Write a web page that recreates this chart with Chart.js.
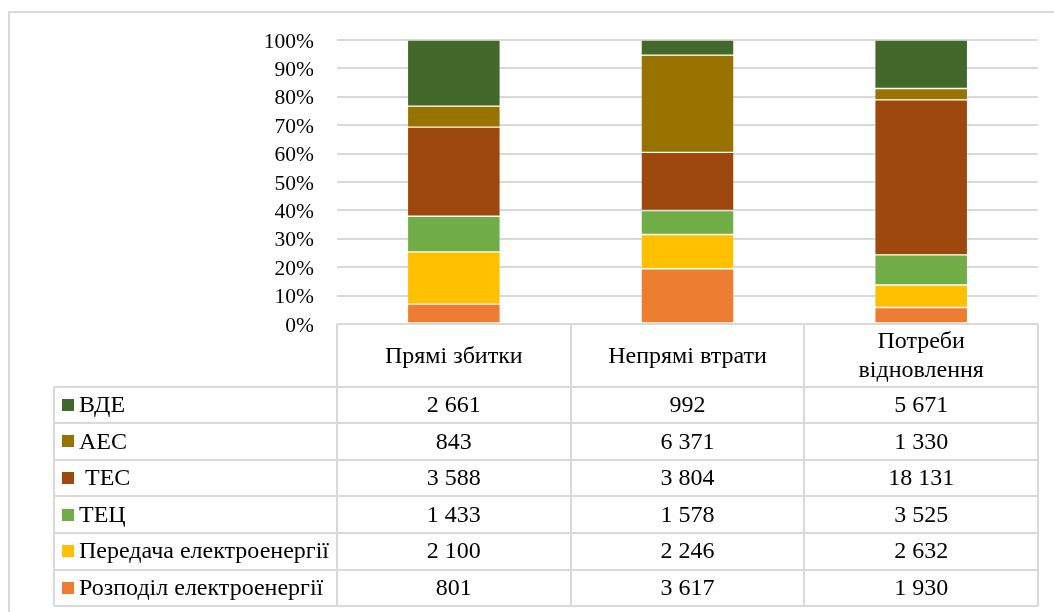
<!DOCTYPE html>
<html>
<head>
<meta charset="utf-8">
<script src="https://cdn.jsdelivr.net/npm/chart.js@4/dist/chart.umd.min.js"></script>
<style>
  html, body { margin: 0; padding: 0; background: #ffffff; }
  canvas { display: block; }
</style>
</head>
<body>
<canvas id="c" width="1054" height="612"></canvas>
<script>
// ---- data ----
const categories = ["Прямі збитки", "Непрямі втрати", ["Потреби", "відновлення"]];
const seriesNames = ["ВДЕ", "АЕС", " ТЕС", "ТЕЦ", "Передача електроенергії", "Розподіл електроенергії"];
const vde      = [2661, 992, 5671];
const aes      = [843, 6371, 1330];
const tes      = [3588, 3804, 18131];
const tec      = [1433, 1578, 3525];
const peredacha = [2100, 2246, 2632];
const rozpodil = [801, 3617, 1930];
const yTickLabels = ["0%", "10%", "20%", "30%", "40%", "50%", "60%", "70%", "80%", "90%", "100%"];

const seriesValues = [vde, aes, tes, tec, peredacha, rozpodil];
const seriesColors = ["#43682B", "#997300", "#9E480E", "#70AD47", "#FFC000", "#ED7D31"];

const totals = categories.map((_, i) => seriesValues.reduce((s, arr) => s + arr[i], 0));

// datasets bottom-to-top: Розподіл first
const datasets = [];
for (let k = seriesValues.length - 1; k >= 0; k--) {
  datasets.push({
    label: seriesNames[k],
    data: seriesValues[k].map((v, i) => v / totals[i] * 100),
    backgroundColor: seriesColors[k],
    borderColor: "rgba(255,255,255,0.22)",
    borderWidth: 0.7,
    borderSkipped: false,
    barPercentage: 0.8,
    categoryPercentage: 0.497
  });
}

function fmt(n) {
  return String(n).replace(/\B(?=(\d{3})+(?!\d))/g, " ");
}

const FONT = '"Liberation Serif", "Times New Roman", serif';
const LINE = "#d9d9d9";
const TABLE_FONT_SIZE = 24;

const framePlugin = {
  id: "frame",
  beforeDraw(chart) {
    const ctx = chart.ctx;
    ctx.save();
    ctx.strokeStyle = LINE;
    ctx.lineWidth = 2;
    ctx.beginPath();
    ctx.moveTo(9, chart.height);
    ctx.lineTo(9, 12);
    ctx.lineTo(chart.width, 12);
    ctx.stroke();
    ctx.restore();
  }
};

const tablePlugin = {
  id: "dataTable",
  afterDraw(chart) {
    const ctx = chart.ctx;
    const xs = chart.scales.x;
    const area = chart.chartArea;
    const n = categories.length;
    const colW = (area.right - area.left) / n;
    const tableLeft = 54;
    const top = area.bottom;
    const headBottom = 386.5;
    const rowH = 36.6;
    const nRows = seriesNames.length;
    const bottom = headBottom + rowH * nRows;

    ctx.save();
    ctx.strokeStyle = LINE;
    ctx.lineWidth = 2;
    ctx.beginPath();
    ctx.moveTo(area.left, top); ctx.lineTo(area.right, top);
    for (let k = 0; k <= n; k++) {
      const x = Math.round(area.left + k * colW);
      ctx.moveTo(x, top); ctx.lineTo(x, bottom);
    }
    ctx.moveTo(tableLeft, headBottom); ctx.lineTo(tableLeft, bottom);
    for (let r = 0; r <= nRows; r++) {
      const y = Math.round(headBottom + r * rowH);
      ctx.moveTo(tableLeft, y); ctx.lineTo(area.right, y);
    }
    ctx.stroke();

    ctx.fillStyle = "#000000";
    ctx.font = TABLE_FONT_SIZE + "px " + FONT;
    ctx.textAlign = "center";
    ctx.textBaseline = "middle";
    categories.forEach((c, i) => {
      const cx = xs.getPixelForValue(i);
      const cy = (top + headBottom) / 2 + 1;
      if (Array.isArray(c)) {
        const lh = 28.3;
        c.forEach((ln, j) => ctx.fillText(ln, cx, cy + (j - (c.length - 1) / 2) * lh));
      } else {
        ctx.fillText(c, cx, cy);
      }
    });
    seriesNames.forEach((name, r) => {
      const cy = headBottom + r * rowH + rowH / 2 + 1;
      ctx.fillStyle = seriesColors[r];
      ctx.fillRect(62, Math.round(cy - 7), 12, 12);
      ctx.fillStyle = "#000000";
      ctx.textAlign = "left";
      ctx.fillText(name, 79, cy);
      ctx.textAlign = "center";
      seriesValues[r].forEach((v, i) => {
        ctx.fillText(fmt(v), xs.getPixelForValue(i), cy);
      });
    });
    ctx.restore();
  }
};

new Chart(document.getElementById("c"), {
  type: "bar",
  data: { labels: categories.map(c => Array.isArray(c) ? c.join(" ") : c), datasets },
  options: {
    responsive: false,
    animation: false,
    events: [],
    layout: { padding: { left: 0, right: 16, top: 40, bottom: 288 } },
    plugins: { legend: { display: false }, tooltip: { enabled: false } },
    scales: {
      x: {
        stacked: true,
        display: false,
        grid: { display: false }
      },
      y: {
        stacked: true,
        min: 0,
        max: 100,
        afterFit(scale) { scale.width = 337; },
        border: { display: false },
        grid: { color: LINE, lineWidth: 2, drawTicks: false },
        ticks: {
          stepSize: 10,
          autoSkip: false,
          padding: 23,
          labelOffset: 2,
          color: "#000000",
          font: { family: FONT, size: 21.5 },
          callback: (v) => yTickLabels[Math.round(v / 10)]
        }
      }
    }
  },
  plugins: [framePlugin, tablePlugin]
});
</script>
</body>
</html>
